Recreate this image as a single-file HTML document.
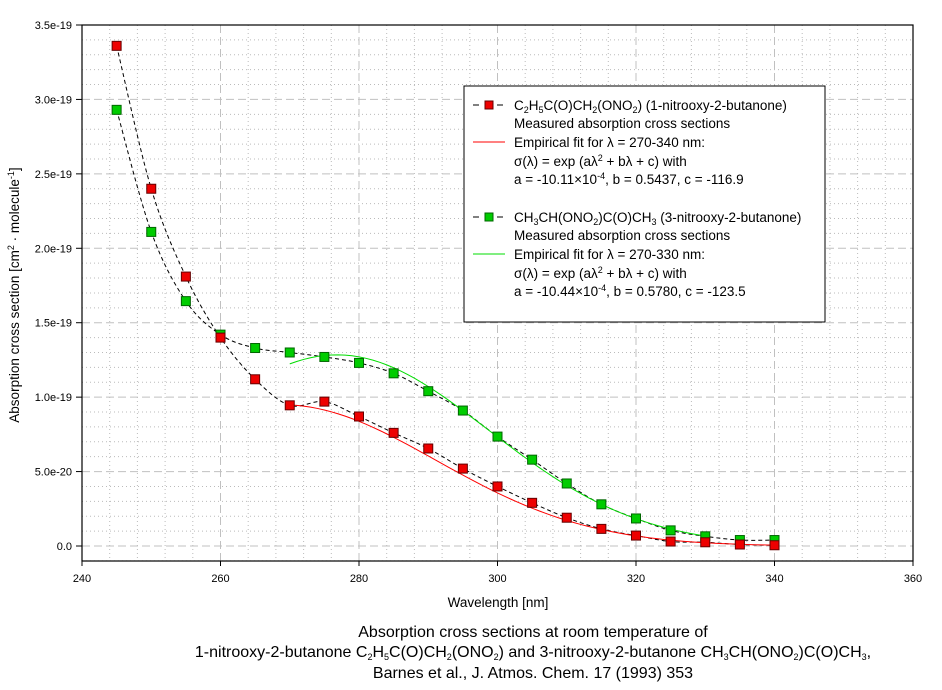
<!DOCTYPE html>
<html><head><meta charset="utf-8">
<style>
body{margin:0;background:#fff;width:942px;height:685px;overflow:hidden;font-family:"Liberation Sans",Arial,sans-serif}
svg text{font-family:"Liberation Sans",Arial,sans-serif;fill:#000}
</style></head><body>
<svg id="s" width="942" height="685" xmlns="http://www.w3.org/2000/svg"></svg>
<script>
const s=document.getElementById('s');
const X=l=>82+(l-240)*831/120, Y=v=>546-v*521/3.5;
let h='';
for(let l=244;l<360;l+=4){if((l-240)%20)h+=`<line x1="${X(l)}" y1="25" x2="${X(l)}" y2="561" stroke="#bbb" stroke-dasharray="1,3"/>`;}
for(let k=-1;k<35;k++){if(k%5){let y=Y(k/10);h+=`<line x1="82" y1="${y}" x2="913" y2="${y}" stroke="#bbb" stroke-dasharray="1,3"/>`;}}
for(let l=260;l<360;l+=20)h+=`<line x1="${X(l)}" y1="25" x2="${X(l)}" y2="561" stroke="#c0c0c0" stroke-dasharray="8,4"/>`;
for(let v=0;v<3.5;v+=0.5)h+=`<line x1="82" y1="${Y(v)}" x2="913" y2="${Y(v)}" stroke="#c0c0c0" stroke-dasharray="8,4"/>`;
h+=`<rect x="82" y="25" width="831" height="536" fill="none" stroke="#000" stroke-width="1.2"/>`;
const yl=['0.0','5.0e-20','1.0e-19','1.5e-19','2.0e-19','2.5e-19','3.0e-19','3.5e-19'];
yl.forEach((t,i)=>{let y=Y(i*0.5);h+=`<line x1="76" y1="${y}" x2="82" y2="${y}" stroke="#000"/><text x="72" y="${y+4}" font-size="11" text-anchor="end">${t}</text>`;});
for(let l=240;l<=360;l+=20)h+=`<line x1="${X(l)}" y1="561" x2="${X(l)}" y2="566" stroke="#000"/><text x="${X(l)}" y="582" font-size="11" text-anchor="middle">${l}</text>`;
h+=`<text x="498" y="607" font-size="13.5" text-anchor="middle">Wavelength [nm]</text>`;
h+=`<text transform="translate(19,295) rotate(-90)" font-size="13.5" text-anchor="middle">Absorption cross section [cm<tspan dy="-5" font-size="9">2</tspan><tspan dy="5"> · molecule</tspan><tspan dy="-5" font-size="9">-1</tspan><tspan dy="5">]</tspan></text>`;
const R=[3.36,2.40,1.81,1.40,1.12,0.945,0.97,0.87,0.76,0.655,0.52,0.40,0.29,0.19,0.115,0.07,0.03,0.025,0.01,0.005];
const G=[2.93,2.11,1.645,1.42,1.33,1.30,1.27,1.23,1.16,1.04,0.91,0.735,0.58,0.42,0.28,0.185,0.105,0.065,0.04,0.04];
function spline(d){let p=d.map((v,i)=>[X(245+5*i),Y(v)]);let s=`M${p[0]}`;for(let i=0;i<p.length-1;i++){let p0=p[i-1]||p[i],p1=p[i],p2=p[i+1],p3=p[i+2]||p2;s+=` C${p1[0]+(p2[0]-p0[0])/6},${p1[1]+(p2[1]-p0[1])/6} ${p2[0]-(p3[0]-p1[0])/6},${p2[1]-(p3[1]-p1[1])/6} ${p2[0]},${p2[1]}`;}return s;}
function fit(a,b,c,l0,l1){let s='';for(let l=l0;l<=l1;l+=1){let v=Math.exp(a*l*l+b*l+c)*1e19;s+=(s?'L':'M')+X(l)+','+Y(v);}return s;}
h+=`<path d="${spline(R)}" fill="none" stroke="#000" stroke-dasharray="4,3"/>`;
h+=`<path d="${spline(G)}" fill="none" stroke="#000" stroke-dasharray="4,3"/>`;
h+=`<path d="${fit(-10.11e-4,0.5437,-116.9,270,340)}" fill="none" stroke="#f00"/>`;
h+=`<path d="${fit(-10.44e-4,0.5780,-123.5,270,330)}" fill="none" stroke="#0d0"/>`;
G.forEach((v,i)=>h+=`<rect x="${X(245+5*i)-4.5}" y="${Y(v)-4.5}" width="9" height="9" fill="#0c0" stroke="#060"/>`);
R.forEach((v,i)=>h+=`<rect x="${X(245+5*i)-4.5}" y="${Y(v)-4.5}" width="9" height="9" fill="#e00" stroke="#600"/>`);
h+=`<rect x="464" y="86" width="361" height="236" fill="#fff" stroke="#000"/>`;
h+=`<line x1="473" y1="105" x2="504" y2="105" stroke="#000" stroke-dasharray="6,6"/><rect x="485" y="101" width="8" height="8" fill="#e00" stroke="#600"/>`;
h+=`<line x1="473" y1="142" x2="505" y2="142" stroke="#f00"/>`;
h+=`<line x1="473" y1="217" x2="504" y2="217" stroke="#000" stroke-dasharray="6,6"/><rect x="485" y="213" width="8" height="8" fill="#0c0" stroke="#060"/>`;
h+=`<line x1="473" y1="254" x2="505" y2="254" stroke="#0d0"/>`;
const sub=t=>`<tspan dy="3" font-size="9">${t}</tspan><tspan dy="-3">`;
const sup=t=>`<tspan dy="-5" font-size="9">${t}</tspan><tspan dy="5">`;
const L=[
[110,`C${sub(2)}H${sub(5)}C(O)CH${sub(2)}(ONO${sub(2)}) (1-nitrooxy-2-butanone)</tspan></tspan></tspan></tspan>`],
[128,'Measured absorption cross sections'],
[147,'Empirical fit for λ = 270-340 nm:'],
[166,`σ(λ) = exp (aλ${sup(2)} + bλ + c) with</tspan>`],
[184,`a = -10.11×10${sup('-4')}, b = 0.5437, c = -116.9</tspan>`],
[222,`CH${sub(3)}CH(ONO${sub(2)})C(O)CH${sub(3)} (3-nitrooxy-2-butanone)</tspan></tspan></tspan>`],
[240,'Measured absorption cross sections'],
[259,'Empirical fit for λ = 270-330 nm:'],
[278,`σ(λ) = exp (aλ${sup(2)} + bλ + c) with</tspan>`],
[296,`a = -10.44×10${sup('-4')}, b = 0.5780, c = -123.5</tspan>`]];
L.forEach(([y,t])=>h+=`<text x="514" y="${y}" font-size="13.5">${t}</text>`);
h+=`<text x="533" y="637" font-size="16" text-anchor="middle">Absorption cross sections at room temperature of</text>`;
h+=`<text x="533" y="657" font-size="16" text-anchor="middle">1-nitrooxy-2-butanone C${sub(2)}H${sub(5)}C(O)CH${sub(2)}(ONO${sub(2)}) and 3-nitrooxy-2-butanone CH${sub(3)}CH(ONO${sub(2)})C(O)CH${sub(3)},</tspan></tspan></tspan></tspan></tspan></tspan></tspan></text>`;
h+=`<text x="533" y="678" font-size="16" text-anchor="middle">Barnes et al., J. Atmos. Chem. 17 (1993) 353</text>`;
s.innerHTML=h;
</script>
</body></html>
